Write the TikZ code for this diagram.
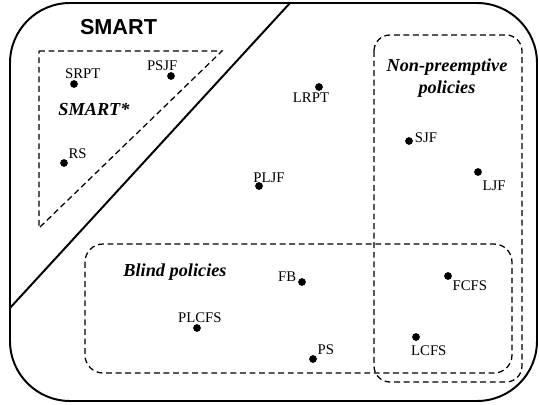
\documentclass[tikz,border=0pt]{standalone}
\usepackage{fontspec}
\setmainfont{Liberation Serif}
\setsansfont{Liberation Sans}
\usetikzlibrary{positioning}

\begin{document}
\begin{tikzpicture}
	[x=0.025cm,y=-0.025cm,
	policy/.style={circle,fill,inner sep=0pt,minimum size=5.5pt},
	every label/.style={font=\fontsize{10.5}{12}\selectfont,inner sep=1pt},
	region/.style={draw,line width=0.9pt,dash pattern=on 4.2pt off 2.6pt},
	title/.style={font=\fontsize{13}{15.6}\selectfont\bfseries\itshape,align=center}]
	\useasboundingbox (0,0) rectangle (539,405);
	\draw[line width=1.4pt,rounded corners=1.5cm] (10,3) rectangle (537,401);
	\coordinate (cut1) at (290,3);
	\coordinate (cut2) at (10,308);
	\draw[line width=1.4pt] (cut1) -- (cut2);
	\coordinate (t1) at (39,51);
	\coordinate (t2) at (222,51);
	\coordinate (t3) at (39,228);
	\draw[region] (t1) -- (t2) -- (t3) -- cycle;
	\draw[region,rounded corners=0.4cm] (374,35) rectangle (522,382);
	\draw[region,rounded corners=0.45cm] (85,244) rectangle (512,373);
	
	\node[font=\fontsize{15.4}{18}\selectfont\sffamily\bfseries] (smart) at (118.5,27) {SMART};
	\node[title] (smartstar) at (94,110) {SMART*};
	\node[title] (nonpre) at (447,78) {Non-preemptive\\policies};
	\node[title] (blind) at (175,272) {Blind policies};
	
	\node[policy,label={[xshift=0.22cm]above:SRPT}] (srpt) at (74,84) {};
	\node[policy,label={[xshift=-0.22cm]above:PSJF}] (psjf) at (171,76) {};
	\node[policy,label={above right:RS}] (rs) at (64,163) {};
	\node[policy,label={[xshift=-0.2cm]below:LRPT}] (lrpt) at (319,87) {};
	\node[policy,label={[xshift=0.25cm,yshift=-2pt]above:PLJF}] (pljf) at (259,186) {};
	\node[policy,label={[yshift=2.5pt]right:SJF}] (sjf) at (409,141) {};
	\node[policy,label={[yshift=-3pt]below right:LJF}] (ljf) at (478,172) {};
	\node[policy,label={[yshift=3.5pt]left:FB}] (fb) at (302,282) {};
	\node[policy,label={[xshift=2pt]above:PLCFS}] (plcfs) at (197,328) {};
	\node[policy,label={above right:PS}] (ps) at (313,359) {};
	\node[policy,label={below right:FCFS}] (fcfs) at (448,276) {};
	\node[policy,label={[xshift=0.32cm,yshift=-2pt]below:LCFS}] (lcfs) at (416,337) {};
\end{tikzpicture}
\end{document}
